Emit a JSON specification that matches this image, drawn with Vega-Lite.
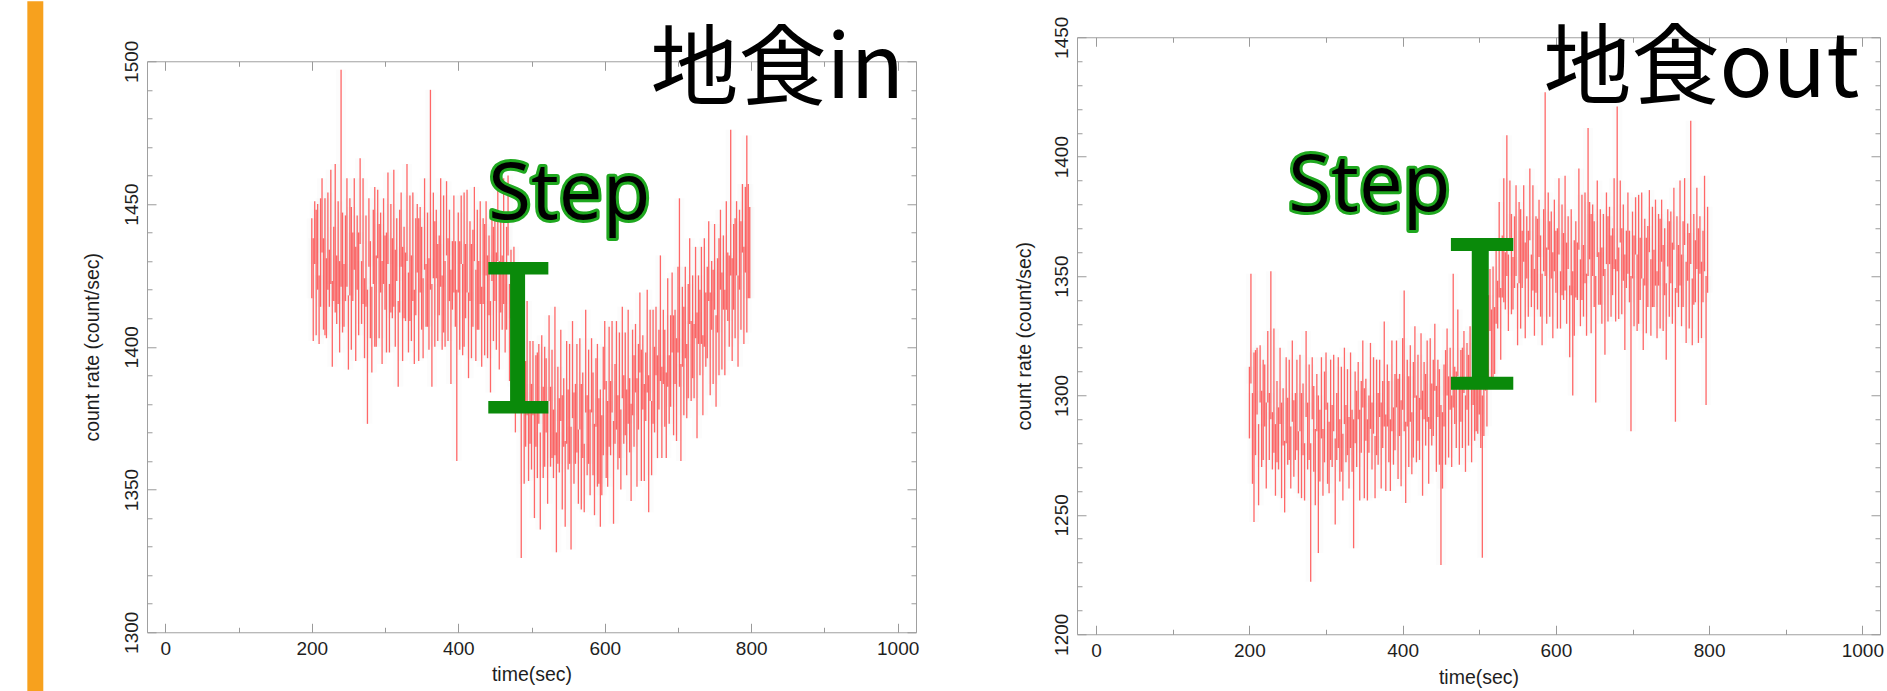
{
  "$schema": "https://vega.github.io/schema/vega-lite/v6.json",
  "background": "white",
  "padding": {"left": 26, "top": 0, "right": 0, "bottom": 0},
  "spacing": 93,
  "center": {"row": true, "column": false},
  "config": {
    "view": {"stroke": "#a0a0a0", "strokeWidth": 1},
    "axis": {"domain": false, "grid": false, "tickColor": "#9a9a9a", "tickWidth": 1, "labelFont": "Liberation Sans", "labelFontSize": 19, "labelColor": "#1e1e1e", "titleFont": "Liberation Sans", "titleFontSize": 19.5, "titleFontWeight": "normal", "titleColor": "#1e1e1e", "labelOverlap": false, "labelFlush": false}
  },
  "datasets": {
    "lc_in": [
{"t":200,"lo":1417,"hi":1445},{"t":202,"lo":1402,"hi":1438},{"t":204,"lo":1429,"hi":1451},{"t":206,"lo":1404,"hi":1448},{"t":208,"lo":1420,"hi":1450},{"t":210,"lo":1401,"hi":1425},{"t":212,"lo":1414,"hi":1452},{"t":214,"lo":1433,"hi":1459},{"t":216,"lo":1406,"hi":1438},{"t":218,"lo":1404,"hi":1452},
{"t":220,"lo":1403,"hi":1431},{"t":222,"lo":1420,"hi":1454},{"t":224,"lo":1414,"hi":1434},{"t":226,"lo":1422,"hi":1462},{"t":228,"lo":1393,"hi":1423},{"t":230,"lo":1416,"hi":1442},{"t":232,"lo":1412,"hi":1464},{"t":234,"lo":1408,"hi":1432},{"t":236,"lo":1415,"hi":1451},{"t":238,"lo":1398,"hi":1430},
{"t":240,"lo":1421,"hi":1497},{"t":242,"lo":1405,"hi":1447},{"t":244,"lo":1407,"hi":1429},{"t":246,"lo":1416,"hi":1446},{"t":248,"lo":1421,"hi":1459},{"t":250,"lo":1392,"hi":1418},{"t":252,"lo":1418,"hi":1452},{"t":254,"lo":1399,"hi":1449},{"t":256,"lo":1416,"hi":1440},{"t":258,"lo":1427,"hi":1459},
{"t":260,"lo":1395,"hi":1435},{"t":262,"lo":1420,"hi":1446},{"t":264,"lo":1404,"hi":1440},{"t":266,"lo":1436,"hi":1466},{"t":268,"lo":1408,"hi":1430},{"t":270,"lo":1415,"hi":1459},{"t":272,"lo":1396,"hi":1424},{"t":274,"lo":1414,"hi":1446},{"t":276,"lo":1373,"hi":1420},{"t":278,"lo":1428,"hi":1452},
{"t":280,"lo":1403,"hi":1437},{"t":282,"lo":1391,"hi":1421},{"t":284,"lo":1422,"hi":1448},{"t":286,"lo":1400,"hi":1456},{"t":288,"lo":1400,"hi":1432},{"t":290,"lo":1431,"hi":1455},{"t":292,"lo":1403,"hi":1443},{"t":294,"lo":1419,"hi":1447},{"t":296,"lo":1394,"hi":1430},{"t":298,"lo":1422,"hi":1452},
{"t":300,"lo":1413,"hi":1439},{"t":302,"lo":1398,"hi":1440},{"t":304,"lo":1429,"hi":1461},{"t":306,"lo":1398,"hi":1422},{"t":308,"lo":1412,"hi":1450},{"t":310,"lo":1410,"hi":1438},{"t":312,"lo":1414,"hi":1462},{"t":314,"lo":1400,"hi":1434},{"t":316,"lo":1423,"hi":1445},{"t":318,"lo":1386,"hi":1416},
{"t":320,"lo":1412,"hi":1448},{"t":322,"lo":1428,"hi":1454},{"t":324,"lo":1395,"hi":1435},{"t":326,"lo":1410,"hi":1442},{"t":328,"lo":1409,"hi":1433},{"t":330,"lo":1430,"hi":1464},{"t":332,"lo":1398,"hi":1426},{"t":334,"lo":1409,"hi":1453},{"t":336,"lo":1402,"hi":1432},{"t":338,"lo":1416,"hi":1454},
{"t":340,"lo":1394,"hi":1420},{"t":342,"lo":1411,"hi":1445},{"t":344,"lo":1426,"hi":1450},{"t":346,"lo":1395,"hi":1445},{"t":348,"lo":1419,"hi":1449},{"t":350,"lo":1406,"hi":1442},{"t":352,"lo":1396,"hi":1424},{"t":354,"lo":1427,"hi":1459},{"t":356,"lo":1407,"hi":1429},{"t":358,"lo":1407,"hi":1447},
{"t":360,"lo":1399,"hi":1431},{"t":362,"lo":1420,"hi":1490},{"t":364,"lo":1386,"hi":1422},{"t":366,"lo":1424,"hi":1454},{"t":368,"lo":1400,"hi":1444},{"t":370,"lo":1424,"hi":1448},{"t":372,"lo":1402,"hi":1436},{"t":374,"lo":1411,"hi":1439},{"t":376,"lo":1421,"hi":1459},{"t":378,"lo":1399,"hi":1425},
{"t":380,"lo":1405,"hi":1453},{"t":382,"lo":1400,"hi":1430},{"t":384,"lo":1432,"hi":1458},{"t":386,"lo":1402,"hi":1438},{"t":388,"lo":1416,"hi":1448},{"t":390,"lo":1387,"hi":1427},{"t":392,"lo":1413,"hi":1437},{"t":394,"lo":1419,"hi":1453},{"t":396,"lo":1407,"hi":1437},{"t":398,"lo":1360,"hi":1420},
{"t":400,"lo":1419,"hi":1447},{"t":402,"lo":1399,"hi":1437},{"t":404,"lo":1429,"hi":1453},{"t":406,"lo":1397,"hi":1429},{"t":408,"lo":1400,"hi":1454},{"t":410,"lo":1410,"hi":1436},{"t":412,"lo":1419,"hi":1455},{"t":414,"lo":1389,"hi":1419},{"t":416,"lo":1416,"hi":1444},{"t":418,"lo":1396,"hi":1436},
{"t":420,"lo":1407,"hi":1441},{"t":422,"lo":1430,"hi":1456},{"t":424,"lo":1395,"hi":1427},{"t":426,"lo":1406,"hi":1448},{"t":428,"lo":1406,"hi":1430},{"t":430,"lo":1415,"hi":1451},{"t":432,"lo":1393,"hi":1421},{"t":434,"lo":1415,"hi":1445},{"t":436,"lo":1397,"hi":1443},{"t":438,"lo":1425,"hi":1451},
{"t":440,"lo":1396,"hi":1432},{"t":442,"lo":1411,"hi":1439},{"t":444,"lo":1384,"hi":1416},{"t":446,"lo":1423,"hi":1447},{"t":448,"lo":1402,"hi":1442},{"t":450,"lo":1416,"hi":1446},{"t":452,"lo":1399,"hi":1433},{"t":454,"lo":1430,"hi":1456},{"t":456,"lo":1392,"hi":1430},{"t":458,"lo":1412,"hi":1444},
{"t":460,"lo":1406,"hi":1432},{"t":462,"lo":1415,"hi":1459},{"t":464,"lo":1398,"hi":1428},{"t":466,"lo":1406,"hi":1442},{"t":468,"lo":1432,"hi":1460},{"t":470,"lo":1388,"hi":1422},{"t":472,"lo":1410,"hi":1434},{"t":474,"lo":1386,"hi":1426},{"t":476,"lo":1403,"hi":1435},{"t":478,"lo":1370,"hi":1398},
{"t":480,"lo":1383,"hi":1421},{"t":482,"lo":1380,"hi":1406},{"t":484,"lo":1390,"hi":1424},{"t":486,"lo":1326,"hi":1395},{"t":488,"lo":1382,"hi":1406},{"t":490,"lo":1352,"hi":1384},{"t":492,"lo":1365,"hi":1395},{"t":494,"lo":1376,"hi":1416},{"t":496,"lo":1353,"hi":1379},{"t":498,"lo":1366,"hi":1402},
{"t":500,"lo":1357,"hi":1387},{"t":502,"lo":1376,"hi":1402},{"t":504,"lo":1340,"hi":1378},{"t":506,"lo":1365,"hi":1397},{"t":508,"lo":1354,"hi":1398},{"t":510,"lo":1373,"hi":1401},{"t":512,"lo":1336,"hi":1370},{"t":514,"lo":1380,"hi":1404},{"t":516,"lo":1354,"hi":1386},{"t":518,"lo":1358,"hi":1400},
{"t":520,"lo":1370,"hi":1396},{"t":522,"lo":1345,"hi":1381},{"t":524,"lo":1381,"hi":1411},{"t":526,"lo":1358,"hi":1386},{"t":528,"lo":1361,"hi":1399},{"t":530,"lo":1354,"hi":1378},{"t":532,"lo":1362,"hi":1414},{"t":534,"lo":1328,"hi":1370},{"t":536,"lo":1359,"hi":1393},{"t":538,"lo":1356,"hi":1382},
{"t":540,"lo":1374,"hi":1406},{"t":542,"lo":1343,"hi":1383},{"t":544,"lo":1365,"hi":1389},{"t":546,"lo":1337,"hi":1367},{"t":548,"lo":1366,"hi":1402},{"t":550,"lo":1357,"hi":1385},{"t":552,"lo":1359,"hi":1401},{"t":554,"lo":1329,"hi":1372},{"t":556,"lo":1375,"hi":1409},{"t":558,"lo":1352,"hi":1384},
{"t":560,"lo":1359,"hi":1387},{"t":562,"lo":1363,"hi":1401},{"t":564,"lo":1345,"hi":1371},{"t":566,"lo":1371,"hi":1403},{"t":568,"lo":1343,"hi":1387},{"t":570,"lo":1361,"hi":1391},{"t":572,"lo":1342,"hi":1366},{"t":574,"lo":1377,"hi":1413},{"t":576,"lo":1355,"hi":1383},{"t":578,"lo":1359,"hi":1399},
{"t":580,"lo":1348,"hi":1378},{"t":582,"lo":1377,"hi":1403},{"t":584,"lo":1355,"hi":1391},{"t":586,"lo":1341,"hi":1373},{"t":588,"lo":1372,"hi":1396},{"t":590,"lo":1351,"hi":1401},{"t":592,"lo":1352,"hi":1382},{"t":594,"lo":1337,"hi":1385},{"t":596,"lo":1348,"hi":1376},{"t":598,"lo":1362,"hi":1400},
{"t":600,"lo":1385,"hi":1409},{"t":602,"lo":1354,"hi":1388},{"t":604,"lo":1351,"hi":1381},{"t":606,"lo":1365,"hi":1407},{"t":608,"lo":1362,"hi":1388},{"t":610,"lo":1377,"hi":1409},{"t":612,"lo":1338,"hi":1374},{"t":614,"lo":1366,"hi":1394},{"t":616,"lo":1371,"hi":1409},{"t":618,"lo":1357,"hi":1383},
{"t":620,"lo":1361,"hi":1405},{"t":622,"lo":1350,"hi":1378},{"t":624,"lo":1382,"hi":1414},{"t":626,"lo":1366,"hi":1390},{"t":628,"lo":1369,"hi":1405},{"t":630,"lo":1355,"hi":1385},{"t":632,"lo":1373,"hi":1413},{"t":634,"lo":1363,"hi":1389},{"t":636,"lo":1346,"hi":1380},{"t":638,"lo":1376,"hi":1406},
{"t":640,"lo":1365,"hi":1397},{"t":642,"lo":1384,"hi":1408},{"t":644,"lo":1351,"hi":1389},{"t":646,"lo":1371,"hi":1401},{"t":648,"lo":1391,"hi":1419},{"t":650,"lo":1353,"hi":1399},{"t":652,"lo":1378,"hi":1404},{"t":654,"lo":1353,"hi":1387},{"t":656,"lo":1374,"hi":1398},{"t":658,"lo":1384,"hi":1420},
{"t":660,"lo":1342,"hi":1390},{"t":662,"lo":1381,"hi":1413},{"t":664,"lo":1355,"hi":1381},{"t":666,"lo":1373,"hi":1413},{"t":668,"lo":1370,"hi":1400},{"t":670,"lo":1390,"hi":1414},{"t":672,"lo":1361,"hi":1397},{"t":674,"lo":1378,"hi":1406},{"t":676,"lo":1388,"hi":1432},{"t":678,"lo":1361,"hi":1393},
{"t":680,"lo":1387,"hi":1413},{"t":682,"lo":1372,"hi":1406},{"t":684,"lo":1361,"hi":1391},{"t":686,"lo":1386,"hi":1424},{"t":688,"lo":1373,"hi":1397},{"t":690,"lo":1379,"hi":1411},{"t":692,"lo":1398,"hi":1426},{"t":694,"lo":1369,"hi":1411},{"t":696,"lo":1387,"hi":1413},{"t":698,"lo":1367,"hi":1403},
{"t":700,"lo":1398,"hi":1428},{"t":702,"lo":1386,"hi":1452},{"t":704,"lo":1360,"hi":1394},{"t":706,"lo":1393,"hi":1421},{"t":708,"lo":1376,"hi":1414},{"t":710,"lo":1396,"hi":1428},{"t":712,"lo":1375,"hi":1401},{"t":714,"lo":1382,"hi":1422},{"t":716,"lo":1408,"hi":1438},{"t":718,"lo":1381,"hi":1409},
{"t":720,"lo":1389,"hi":1425},{"t":722,"lo":1382,"hi":1408},{"t":724,"lo":1403,"hi":1435},{"t":726,"lo":1368,"hi":1412},{"t":728,"lo":1401,"hi":1425},{"t":730,"lo":1390,"hi":1420},{"t":732,"lo":1401,"hi":1435},{"t":734,"lo":1376,"hi":1404},{"t":736,"lo":1400,"hi":1438},{"t":738,"lo":1393,"hi":1419},
{"t":740,"lo":1396,"hi":1428},{"t":742,"lo":1416,"hi":1444},{"t":744,"lo":1383,"hi":1419},{"t":746,"lo":1406,"hi":1430},{"t":748,"lo":1387,"hi":1427},{"t":750,"lo":1413,"hi":1443},{"t":752,"lo":1379,"hi":1411},{"t":754,"lo":1405,"hi":1431},{"t":756,"lo":1390,"hi":1438},{"t":758,"lo":1420,"hi":1448},
{"t":760,"lo":1392,"hi":1426},{"t":762,"lo":1413,"hi":1439},{"t":764,"lo":1390,"hi":1420},{"t":766,"lo":1413,"hi":1451},{"t":768,"lo":1409,"hi":1433},{"t":770,"lo":1400,"hi":1432},{"t":772,"lo":1425,"hi":1476},{"t":774,"lo":1395,"hi":1431},{"t":776,"lo":1413,"hi":1443},{"t":778,"lo":1403,"hi":1445},
{"t":780,"lo":1425,"hi":1451},{"t":782,"lo":1393,"hi":1425},{"t":784,"lo":1420,"hi":1448},{"t":786,"lo":1406,"hi":1444},{"t":788,"lo":1433,"hi":1457},{"t":790,"lo":1401,"hi":1435},{"t":792,"lo":1426,"hi":1456},{"t":794,"lo":1405,"hi":1474},{"t":796,"lo":1417,"hi":1457},{"t":798,"lo":1417,"hi":1449}
    ],
    "lc_out": [
{"t":200,"lo":1282,"hi":1312},{"t":202,"lo":1305,"hi":1351},{"t":204,"lo":1263,"hi":1301},{"t":206,"lo":1247,"hi":1318},{"t":208,"lo":1275,"hi":1319},{"t":210,"lo":1292,"hi":1320},{"t":212,"lo":1254,"hi":1288},{"t":214,"lo":1297,"hi":1321},{"t":216,"lo":1270,"hi":1302},{"t":218,"lo":1273,"hi":1315},
{"t":220,"lo":1287,"hi":1313},{"t":222,"lo":1261,"hi":1297},{"t":224,"lo":1297,"hi":1327},{"t":226,"lo":1273,"hi":1301},{"t":228,"lo":1290,"hi":1352},{"t":230,"lo":1269,"hi":1293},{"t":232,"lo":1276,"hi":1328},{"t":234,"lo":1258,"hi":1288},{"t":236,"lo":1272,"hi":1306},{"t":238,"lo":1269,"hi":1295},
{"t":240,"lo":1288,"hi":1320},{"t":242,"lo":1257,"hi":1297},{"t":244,"lo":1279,"hi":1303},{"t":246,"lo":1251,"hi":1281},{"t":248,"lo":1280,"hi":1316},{"t":250,"lo":1271,"hi":1299},{"t":252,"lo":1273,"hi":1315},{"t":254,"lo":1261,"hi":1287},{"t":256,"lo":1289,"hi":1323},{"t":258,"lo":1266,"hi":1298},
{"t":260,"lo":1273,"hi":1301},{"t":262,"lo":1277,"hi":1315},{"t":264,"lo":1259,"hi":1285},{"t":266,"lo":1285,"hi":1317},{"t":268,"lo":1257,"hi":1301},{"t":270,"lo":1275,"hi":1305},{"t":272,"lo":1256,"hi":1280},{"t":274,"lo":1291,"hi":1327},{"t":276,"lo":1269,"hi":1297},{"t":278,"lo":1273,"hi":1313},
{"t":280,"lo":1222,"hi":1280},{"t":282,"lo":1290,"hi":1316},{"t":284,"lo":1268,"hi":1304},{"t":286,"lo":1254,"hi":1286},{"t":288,"lo":1285,"hi":1309},{"t":290,"lo":1234,"hi":1300},{"t":292,"lo":1264,"hi":1294},{"t":294,"lo":1282,"hi":1316},{"t":296,"lo":1258,"hi":1286},{"t":298,"lo":1272,"hi":1310},
{"t":300,"lo":1294,"hi":1318},{"t":302,"lo":1263,"hi":1297},{"t":304,"lo":1259,"hi":1289},{"t":306,"lo":1273,"hi":1315},{"t":308,"lo":1270,"hi":1296},{"t":310,"lo":1285,"hi":1317},{"t":312,"lo":1246,"hi":1282},{"t":314,"lo":1273,"hi":1301},{"t":316,"lo":1278,"hi":1316},{"t":318,"lo":1264,"hi":1290},
{"t":320,"lo":1268,"hi":1312},{"t":322,"lo":1256,"hi":1284},{"t":324,"lo":1288,"hi":1320},{"t":326,"lo":1272,"hi":1296},{"t":328,"lo":1275,"hi":1311},{"t":330,"lo":1261,"hi":1291},{"t":332,"lo":1278,"hi":1318},{"t":334,"lo":1268,"hi":1294},{"t":336,"lo":1236,"hi":1290},{"t":338,"lo":1280,"hi":1310},
{"t":340,"lo":1270,"hi":1302},{"t":342,"lo":1290,"hi":1314},{"t":344,"lo":1256,"hi":1294},{"t":346,"lo":1276,"hi":1306},{"t":348,"lo":1295,"hi":1323},{"t":350,"lo":1257,"hi":1303},{"t":352,"lo":1281,"hi":1307},{"t":354,"lo":1256,"hi":1290},{"t":356,"lo":1276,"hi":1300},{"t":358,"lo":1286,"hi":1322},
{"t":360,"lo":1269,"hi":1297},{"t":362,"lo":1284,"hi":1316},{"t":364,"lo":1257,"hi":1283},{"t":366,"lo":1275,"hi":1315},{"t":368,"lo":1271,"hi":1301},{"t":370,"lo":1291,"hi":1315},{"t":372,"lo":1261,"hi":1297},{"t":374,"lo":1278,"hi":1306},{"t":376,"lo":1287,"hi":1331},{"t":378,"lo":1260,"hi":1292},
{"t":380,"lo":1287,"hi":1313},{"t":382,"lo":1272,"hi":1306},{"t":384,"lo":1260,"hi":1290},{"t":386,"lo":1285,"hi":1323},{"t":388,"lo":1271,"hi":1295},{"t":390,"lo":1277,"hi":1309},{"t":392,"lo":1295,"hi":1323},{"t":394,"lo":1265,"hi":1307},{"t":396,"lo":1283,"hi":1309},{"t":398,"lo":1262,"hi":1298},
{"t":400,"lo":1294,"hi":1324},{"t":402,"lo":1285,"hi":1344},{"t":404,"lo":1255,"hi":1289},{"t":406,"lo":1287,"hi":1315},{"t":408,"lo":1270,"hi":1308},{"t":410,"lo":1289,"hi":1321},{"t":412,"lo":1267,"hi":1293},{"t":414,"lo":1274,"hi":1314},{"t":416,"lo":1299,"hi":1329},{"t":418,"lo":1272,"hi":1300},
{"t":420,"lo":1281,"hi":1317},{"t":422,"lo":1273,"hi":1299},{"t":424,"lo":1294,"hi":1326},{"t":426,"lo":1258,"hi":1302},{"t":428,"lo":1290,"hi":1314},{"t":430,"lo":1279,"hi":1309},{"t":432,"lo":1289,"hi":1323},{"t":434,"lo":1263,"hi":1291},{"t":436,"lo":1286,"hi":1324},{"t":438,"lo":1279,"hi":1305},
{"t":440,"lo":1283,"hi":1315},{"t":442,"lo":1302,"hi":1330},{"t":444,"lo":1268,"hi":1304},{"t":446,"lo":1291,"hi":1315},{"t":448,"lo":1271,"hi":1311},{"t":450,"lo":1229,"hi":1296},{"t":452,"lo":1261,"hi":1293},{"t":454,"lo":1287,"hi":1313},{"t":456,"lo":1271,"hi":1319},{"t":458,"lo":1300,"hi":1328},
{"t":460,"lo":1274,"hi":1308},{"t":462,"lo":1294,"hi":1320},{"t":464,"lo":1270,"hi":1300},{"t":466,"lo":1295,"hi":1351},{"t":468,"lo":1288,"hi":1312},{"t":470,"lo":1278,"hi":1310},{"t":472,"lo":1308,"hi":1336},{"t":474,"lo":1271,"hi":1307},{"t":476,"lo":1289,"hi":1319},{"t":478,"lo":1278,"hi":1320},
{"t":480,"lo":1301,"hi":1327},{"t":482,"lo":1268,"hi":1300},{"t":484,"lo":1294,"hi":1322},{"t":486,"lo":1279,"hi":1317},{"t":488,"lo":1305,"hi":1329},{"t":490,"lo":1272,"hi":1306},{"t":492,"lo":1296,"hi":1326},{"t":494,"lo":1281,"hi":1307},{"t":496,"lo":1285,"hi":1325},{"t":498,"lo":1284,"hi":1316},
{"t":500,"lo":1292,"hi":1320},{"t":502,"lo":1278,"hi":1314},{"t":504,"lo":1232,"hi":1300},{"t":506,"lo":1283,"hi":1327},{"t":508,"lo":1302,"hi":1332},{"t":510,"lo":1287,"hi":1311},{"t":512,"lo":1304,"hi":1342},{"t":514,"lo":1327,"hi":1353},{"t":516,"lo":1304,"hi":1336},{"t":518,"lo":1306,"hi":1354},
{"t":520,"lo":1309,"hi":1337},{"t":522,"lo":1330,"hi":1364},{"t":524,"lo":1328,"hi":1348},{"t":526,"lo":1341,"hi":1381},{"t":528,"lo":1315,"hi":1345},{"t":530,"lo":1341,"hi":1367},{"t":532,"lo":1339,"hi":1391},{"t":534,"lo":1336,"hi":1360},{"t":536,"lo":1350,"hi":1409},{"t":538,"lo":1327,"hi":1359},
{"t":540,"lo":1362,"hi":1390},{"t":542,"lo":1334,"hi":1376},{"t":544,"lo":1336,"hi":1358},{"t":546,"lo":1345,"hi":1375},{"t":548,"lo":1350,"hi":1388},{"t":550,"lo":1321,"hi":1347},{"t":552,"lo":1347,"hi":1381},{"t":554,"lo":1328,"hi":1378},{"t":556,"lo":1345,"hi":1369},{"t":558,"lo":1356,"hi":1388},
{"t":560,"lo":1324,"hi":1364},{"t":562,"lo":1349,"hi":1375},{"t":564,"lo":1333,"hi":1369},{"t":566,"lo":1365,"hi":1395},{"t":568,"lo":1337,"hi":1359},{"t":570,"lo":1344,"hi":1388},{"t":572,"lo":1325,"hi":1353},{"t":574,"lo":1343,"hi":1375},{"t":576,"lo":1336,"hi":1374},{"t":578,"lo":1358,"hi":1382},
{"t":580,"lo":1333,"hi":1367},{"t":582,"lo":1321,"hi":1351},{"t":584,"lo":1352,"hi":1378},{"t":586,"lo":1350,"hi":1427},{"t":588,"lo":1330,"hi":1362},{"t":590,"lo":1361,"hi":1385},{"t":592,"lo":1333,"hi":1373},{"t":594,"lo":1349,"hi":1377},{"t":596,"lo":1324,"hi":1360},{"t":598,"lo":1352,"hi":1382},
{"t":600,"lo":1343,"hi":1369},{"t":602,"lo":1328,"hi":1370},{"t":604,"lo":1359,"hi":1391},{"t":606,"lo":1328,"hi":1352},{"t":608,"lo":1342,"hi":1380},{"t":610,"lo":1340,"hi":1368},{"t":612,"lo":1344,"hi":1392},{"t":614,"lo":1330,"hi":1364},{"t":616,"lo":1353,"hi":1375},{"t":618,"lo":1316,"hi":1346},
{"t":620,"lo":1342,"hi":1378},{"t":622,"lo":1300,"hi":1352},{"t":624,"lo":1325,"hi":1365},{"t":626,"lo":1341,"hi":1373},{"t":628,"lo":1340,"hi":1364},{"t":630,"lo":1361,"hi":1395},{"t":632,"lo":1329,"hi":1357},{"t":634,"lo":1340,"hi":1384},{"t":636,"lo":1333,"hi":1363},{"t":638,"lo":1347,"hi":1385},
{"t":640,"lo":1325,"hi":1351},{"t":642,"lo":1350,"hi":1412},{"t":644,"lo":1357,"hi":1381},{"t":646,"lo":1326,"hi":1376},{"t":648,"lo":1350,"hi":1380},{"t":650,"lo":1337,"hi":1373},{"t":652,"lo":1297,"hi":1350},{"t":654,"lo":1358,"hi":1390},{"t":656,"lo":1338,"hi":1360},{"t":658,"lo":1338,"hi":1378},
{"t":660,"lo":1330,"hi":1362},{"t":662,"lo":1350,"hi":1376},{"t":664,"lo":1317,"hi":1353},{"t":666,"lo":1355,"hi":1385},{"t":668,"lo":1331,"hi":1375},{"t":670,"lo":1355,"hi":1379},{"t":672,"lo":1333,"hi":1367},{"t":674,"lo":1342,"hi":1370},{"t":676,"lo":1353,"hi":1391},{"t":678,"lo":1331,"hi":1357},
{"t":680,"lo":1352,"hi":1421},{"t":682,"lo":1332,"hi":1362},{"t":684,"lo":1364,"hi":1390},{"t":686,"lo":1334,"hi":1370},{"t":688,"lo":1348,"hi":1380},{"t":690,"lo":1319,"hi":1359},{"t":692,"lo":1345,"hi":1369},{"t":694,"lo":1351,"hi":1385},{"t":696,"lo":1339,"hi":1369},{"t":698,"lo":1285,"hi":1350},
{"t":700,"lo":1349,"hi":1377},{"t":702,"lo":1329,"hi":1367},{"t":704,"lo":1359,"hi":1383},{"t":706,"lo":1327,"hi":1359},{"t":708,"lo":1330,"hi":1384},{"t":710,"lo":1340,"hi":1366},{"t":712,"lo":1349,"hi":1385},{"t":714,"lo":1319,"hi":1349},{"t":716,"lo":1346,"hi":1374},{"t":718,"lo":1326,"hi":1366},
{"t":720,"lo":1337,"hi":1371},{"t":722,"lo":1360,"hi":1386},{"t":724,"lo":1325,"hi":1357},{"t":726,"lo":1337,"hi":1379},{"t":728,"lo":1337,"hi":1361},{"t":730,"lo":1346,"hi":1382},{"t":732,"lo":1324,"hi":1352},{"t":734,"lo":1346,"hi":1376},{"t":736,"lo":1328,"hi":1374},{"t":738,"lo":1356,"hi":1382},
{"t":740,"lo":1327,"hi":1363},{"t":742,"lo":1342,"hi":1370},{"t":744,"lo":1315,"hi":1347},{"t":746,"lo":1354,"hi":1378},{"t":748,"lo":1333,"hi":1373},{"t":750,"lo":1347,"hi":1377},{"t":752,"lo":1330,"hi":1364},{"t":754,"lo":1361,"hi":1387},{"t":756,"lo":1289,"hi":1345},{"t":758,"lo":1343,"hi":1375},
{"t":760,"lo":1337,"hi":1363},{"t":762,"lo":1346,"hi":1390},{"t":764,"lo":1329,"hi":1359},{"t":766,"lo":1337,"hi":1373},{"t":768,"lo":1363,"hi":1391},{"t":770,"lo":1322,"hi":1356},{"t":772,"lo":1348,"hi":1372},{"t":774,"lo":1328,"hi":1368},{"t":776,"lo":1355,"hi":1415},{"t":778,"lo":1321,"hi":1349},
{"t":780,"lo":1338,"hi":1376},{"t":782,"lo":1339,"hi":1365},{"t":784,"lo":1353,"hi":1387},{"t":786,"lo":1322,"hi":1370},{"t":788,"lo":1351,"hi":1375},{"t":790,"lo":1324,"hi":1356},{"t":792,"lo":1339,"hi":1369},{"t":794,"lo":1352,"hi":1392},{"t":796,"lo":1296,"hi":1350},{"t":798,"lo":1343,"hi":1379}
    ],
    "step_in": [{"t": 481, "top": 1427.5, "bottom": 1378.8}],
    "caps_in": [{"from": 441, "to": 523, "rate": 1427.5}, {"from": 441, "to": 523, "rate": 1378.8}],
    "label_in": [{"t": 441, "rate": 1444.7, "text": "Step"}],
    "title_in": [{"t": 1009, "rate": 1487, "text": "地食in"}],
    "bar": [{"t1": -188.4, "t2": -166.6, "top": 1521, "bottom": 1279}],
    "step_out": [{"t": 501.3, "top": 1363.2, "bottom": 1305.1}],
    "caps_out": [{"from": 463, "to": 544.4, "rate": 1363.2}, {"from": 463, "to": 544.4, "rate": 1305.1}],
    "label_out": [{"t": 250.8, "rate": 1377.1, "text": "Step"}],
    "title_out": [{"t": 996, "rate": 1425.1, "text": "地食out"}]
  },
  "hconcat": [
    {
      "width": 769,
      "height": 571,
      "layer": [
        {
          "data": {"name": "lc_in"},
          "mark": {"type": "rule", "color": "#6e6e6e", "strokeWidth": 10, "opacity": 0.025},
          "encoding": {
            "x": {"field": "t", "type": "quantitative", "scale": {"domain": [-25, 1025], "nice": false, "zero": false}, "axis": null},
            "y": {"field": "lo", "type": "quantitative", "scale": {"domain": [1300, 1500], "nice": false, "zero": false}, "axis": null},
            "y2": {"field": "hi"}
          }
        },
        {
          "data": {"name": "lc_in"},
          "mark": {"type": "rule", "color": "#ff3c3c", "strokeWidth": 1.3, "opacity": 0.78},
          "encoding": {
            "x": {"field": "t", "type": "quantitative", "scale": {"domain": [-25, 1025], "nice": false, "zero": false},
              "axis": {"orient": "bottom", "values": [0,100,200,300,400,500,600,700,800,900,1000], "format": "d", "labelExpr": "datum.value % 200 === 0 ? datum.label : ''", "tickSize": {"condition": {"test": "datum.value % 200 === 0", "value": -9}, "value": -5}, "labelPadding": 16, "title": "time(sec)", "titlePadding": 3}},
            "y": {"field": "lo", "type": "quantitative", "scale": {"domain": [1300, 1500], "nice": false, "zero": false},
              "axis": {"orient": "left", "values": [1300,1310,1320,1330,1340,1350,1360,1370,1380,1390,1400,1410,1420,1430,1440,1450,1460,1470,1480,1490,1500], "format": "d", "labelExpr": "datum.value % 50 === 0 ? datum.label : ''", "tickSize": {"condition": {"test": "datum.value % 50 === 0", "value": -9}, "value": -5}, "labelAngle": -90, "labelAlign": "center", "labelBaseline": "alphabetic", "labelPadding": 19, "title": "count rate (count/sec)", "titlePadding": 16}},
            "y2": {"field": "hi"}
          }
        },
        {
          "data": {"name": "step_in"},
          "mark": {"type": "rule", "color": "#0a8a0a", "strokeWidth": 15},
          "encoding": {
            "x": {"field": "t", "type": "quantitative", "scale": {"domain": [-25, 1025], "nice": false, "zero": false},
              "axis": {"orient": "top", "values": [0,100,200,300,400,500,600,700,800,900,1000], "labels": false, "tickSize": {"condition": {"test": "datum.value % 200 === 0", "value": -9}, "value": -5}, "title": null}},
            "y": {"field": "top", "type": "quantitative", "scale": {"domain": [1300, 1500], "nice": false, "zero": false},
              "axis": {"orient": "right", "values": [1300,1310,1320,1330,1340,1350,1360,1370,1380,1390,1400,1410,1420,1430,1440,1450,1460,1470,1480,1490,1500], "labels": false, "tickSize": {"condition": {"test": "datum.value % 50 === 0", "value": -9}, "value": -5}, "title": null}},
            "y2": {"field": "bottom"}
          }
        },
        {
          "data": {"name": "caps_in"},
          "mark": {"type": "rule", "color": "#0a8a0a", "strokeWidth": 12.5},
          "encoding": {
            "x": {"field": "from", "type": "quantitative", "scale": {"domain": [-25, 1025], "nice": false, "zero": false}, "axis": null},
            "x2": {"field": "to"},
            "y": {"field": "rate", "type": "quantitative", "scale": {"domain": [1300, 1500], "nice": false, "zero": false}, "axis": null}
          }
        },
        {
          "data": {"name": "label_in"},
          "mark": {"type": "text", "font": "Open Sans", "fontSize": 78, "align": "left", "baseline": "alphabetic", "fill": "#1fa81f", "stroke": "#1fa81f", "strokeWidth": 6, "strokeJoin": "round"},
          "encoding": {
            "x": {"field": "t", "type": "quantitative", "scale": {"domain": [-25, 1025], "nice": false, "zero": false}, "axis": null},
            "y": {"field": "rate", "type": "quantitative", "scale": {"domain": [1300, 1500], "nice": false, "zero": false}, "axis": null},
            "text": {"field": "text"}
          }
        },
        {
          "data": {"name": "label_in"},
          "mark": {"type": "text", "font": "Open Sans", "fontSize": 78, "align": "left", "baseline": "alphabetic", "fill": "#000000"},
          "encoding": {
            "x": {"field": "t", "type": "quantitative", "scale": {"domain": [-25, 1025], "nice": false, "zero": false}, "axis": null},
            "y": {"field": "rate", "type": "quantitative", "scale": {"domain": [1300, 1500], "nice": false, "zero": false}, "axis": null},
            "text": {"field": "text"}
          }
        },
        {
          "data": {"name": "title_in"},
          "mark": {"type": "text", "font": "Noto Sans CJK JP", "fontSize": 88, "align": "right", "baseline": "alphabetic", "fill": "#000000"},
          "encoding": {
            "x": {"field": "t", "type": "quantitative", "scale": {"domain": [-25, 1025], "nice": false, "zero": false}, "axis": null},
            "y": {"field": "rate", "type": "quantitative", "scale": {"domain": [1300, 1500], "nice": false, "zero": false}, "axis": null},
            "text": {"field": "text"}
          }
        },
        {
          "data": {"name": "bar"},
          "mark": {"type": "rect", "color": "#f7a11e"},
          "encoding": {
            "x": {"field": "t1", "type": "quantitative", "scale": {"domain": [-25, 1025], "nice": false, "zero": false}, "axis": null},
            "x2": {"field": "t2"},
            "y": {"field": "top", "type": "quantitative", "scale": {"domain": [1300, 1500], "nice": false, "zero": false}, "axis": null},
            "y2": {"field": "bottom"}
          }
        }
      ],
      "resolve": {"axis": {"x": "independent", "y": "independent"}}
    },
    {
      "width": 803,
      "height": 597,
      "layer": [
        {
          "data": {"name": "lc_out"},
          "mark": {"type": "rule", "color": "#6e6e6e", "strokeWidth": 10, "opacity": 0.025},
          "encoding": {
            "x": {"field": "t", "type": "quantitative", "scale": {"domain": [-25, 1023], "nice": false, "zero": false}, "axis": null},
            "y": {"field": "lo", "type": "quantitative", "scale": {"domain": [1200, 1450], "nice": false, "zero": false}, "axis": null},
            "y2": {"field": "hi"}
          }
        },
        {
          "data": {"name": "lc_out"},
          "mark": {"type": "rule", "color": "#ff3c3c", "strokeWidth": 1.3, "opacity": 0.78},
          "encoding": {
            "x": {"field": "t", "type": "quantitative", "scale": {"domain": [-25, 1023], "nice": false, "zero": false},
              "axis": {"orient": "bottom", "values": [0,100,200,300,400,500,600,700,800,900,1000], "format": "d", "labelExpr": "datum.value % 200 === 0 ? datum.label : ''", "tickSize": {"condition": {"test": "datum.value % 200 === 0", "value": -9}, "value": -5}, "labelPadding": 16, "title": ["time(sec)", ""], "titleLineHeight": 29, "titlePadding": 4.5}},
            "y": {"field": "lo", "type": "quantitative", "scale": {"domain": [1200, 1450], "nice": false, "zero": false},
              "axis": {"orient": "left", "values": [1200,1210,1220,1230,1240,1250,1260,1270,1280,1290,1300,1310,1320,1330,1340,1350,1360,1370,1380,1390,1400,1410,1420,1430,1440,1450], "format": "d", "labelExpr": "datum.value % 50 === 0 ? datum.label : ''", "tickSize": {"condition": {"test": "datum.value % 50 === 0", "value": -9}, "value": -5}, "labelAngle": -90, "labelAlign": "center", "labelBaseline": "alphabetic", "labelPadding": 19, "title": "count rate (count/sec)", "titlePadding": 14}},
            "y2": {"field": "hi"}
          }
        },
        {
          "data": {"name": "step_out"},
          "mark": {"type": "rule", "color": "#0a8a0a", "strokeWidth": 17},
          "encoding": {
            "x": {"field": "t", "type": "quantitative", "scale": {"domain": [-25, 1023], "nice": false, "zero": false},
              "axis": {"orient": "top", "values": [0,100,200,300,400,500,600,700,800,900,1000], "labels": false, "tickSize": {"condition": {"test": "datum.value % 200 === 0", "value": -9}, "value": -5}, "title": null}},
            "y": {"field": "top", "type": "quantitative", "scale": {"domain": [1200, 1450], "nice": false, "zero": false},
              "axis": {"orient": "right", "values": [1200,1210,1220,1230,1240,1250,1260,1270,1280,1290,1300,1310,1320,1330,1340,1350,1360,1370,1380,1390,1400,1410,1420,1430,1440,1450], "labels": false, "tickSize": {"condition": {"test": "datum.value % 50 === 0", "value": -9}, "value": -5}, "title": null}},
            "y2": {"field": "bottom"}
          }
        },
        {
          "data": {"name": "caps_out"},
          "mark": {"type": "rule", "color": "#0a8a0a", "strokeWidth": 13},
          "encoding": {
            "x": {"field": "from", "type": "quantitative", "scale": {"domain": [-25, 1023], "nice": false, "zero": false}, "axis": null},
            "x2": {"field": "to"},
            "y": {"field": "rate", "type": "quantitative", "scale": {"domain": [1200, 1450], "nice": false, "zero": false}, "axis": null}
          }
        },
        {
          "data": {"name": "label_out"},
          "mark": {"type": "text", "font": "Open Sans", "fontSize": 78, "align": "left", "baseline": "alphabetic", "fill": "#1fa81f", "stroke": "#1fa81f", "strokeWidth": 6, "strokeJoin": "round"},
          "encoding": {
            "x": {"field": "t", "type": "quantitative", "scale": {"domain": [-25, 1023], "nice": false, "zero": false}, "axis": null},
            "y": {"field": "rate", "type": "quantitative", "scale": {"domain": [1200, 1450], "nice": false, "zero": false}, "axis": null},
            "text": {"field": "text"}
          }
        },
        {
          "data": {"name": "label_out"},
          "mark": {"type": "text", "font": "Open Sans", "fontSize": 78, "align": "left", "baseline": "alphabetic", "fill": "#000000"},
          "encoding": {
            "x": {"field": "t", "type": "quantitative", "scale": {"domain": [-25, 1023], "nice": false, "zero": false}, "axis": null},
            "y": {"field": "rate", "type": "quantitative", "scale": {"domain": [1200, 1450], "nice": false, "zero": false}, "axis": null},
            "text": {"field": "text"}
          }
        },
        {
          "data": {"name": "title_out"},
          "mark": {"type": "text", "font": "Noto Sans CJK JP", "fontSize": 88, "align": "right", "baseline": "alphabetic", "fill": "#000000"},
          "encoding": {
            "x": {"field": "t", "type": "quantitative", "scale": {"domain": [-25, 1023], "nice": false, "zero": false}, "axis": null},
            "y": {"field": "rate", "type": "quantitative", "scale": {"domain": [1200, 1450], "nice": false, "zero": false}, "axis": null},
            "text": {"field": "text"}
          }
        }
      ],
      "resolve": {"axis": {"x": "independent", "y": "independent"}}
    }
  ]
}
